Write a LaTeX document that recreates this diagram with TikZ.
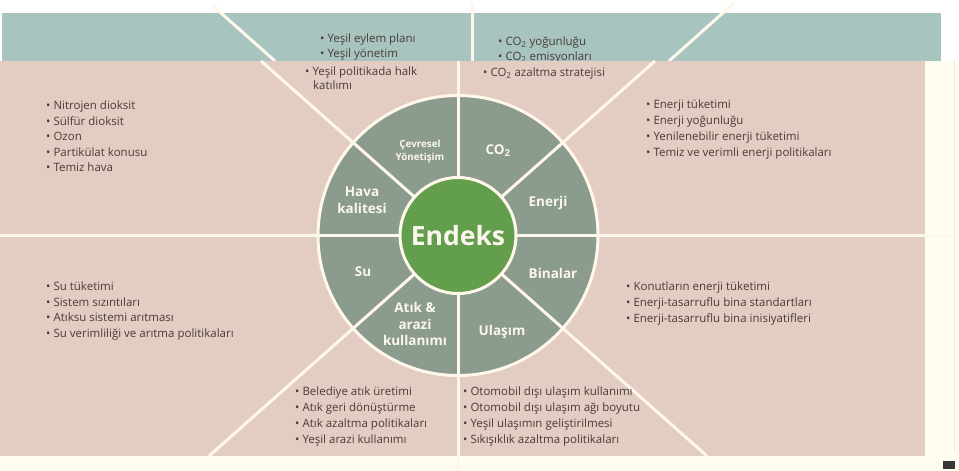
\documentclass[tikz,border=0pt]{standalone}
\usepackage{fontspec}
\setmainfont{Open Sans}

\definecolor{bandteal}{HTML}{A8C4BE}
\definecolor{panelpink}{HTML}{E3CDC2}
\definecolor{pagecream}{HTML}{FFFCF0}
\definecolor{linecream}{HTML}{FFF7EA}
\definecolor{wheelgrey}{HTML}{8B9B8D}
\definecolor{hubgreen}{HTML}{639E4C}
\definecolor{textdark}{HTML}{483B3B}
\definecolor{labelwhite}{HTML}{FBF7EE}

\begin{document}
\begin{tikzpicture}[
    x=1pt, y=-1pt,
    divider/.style={draw=linecream, line width=3pt},
    item/.style={anchor=base west, inner sep=0pt, text=textdark, font=\fontsize{11.5}{14}\selectfont},
    seglabel/.style={align=center, inner sep=0pt, text=labelwhite, font=\bfseries\fontsize{13.5}{16.5}\selectfont}
]

% Page, top band and main panel
\useasboundingbox (0,0) rectangle (959,471);
\fill[white] (0,0) rectangle (959,471);
\fill[pagecream] (0,61) rectangle (959,471);
\fill[bandteal] (2,13) rectangle (941,61);

% Top band (shifted copy of the dividers)
\draw[divider] (212,5) -- (275,61);
\draw[divider] (472,3) -- (472,61);
\draw[divider] (734,3) -- (669,61);
\node[item] (band-1) at (320,42.5) {• Yeşil eylem planı};
\node[item] (band-2) at (320,57.5) {• Yeşil yönetim};
\node[item] (band-3) at (498,45.5) {• CO\textsubscript{2} yoğunluğu};
\node[item] (band-4) at (498,60.5) {• CO\textsubscript{2} emisyonları};

\fill[panelpink] (0,61) rectangle (925,456);
\draw[panelpink!60, line width=1pt] (954,61) -- (954,450);

% Wheel
\coordinate (C) at (458,235.5);
\node[circle, fill=wheelgrey, draw=linecream, line width=3pt, minimum size=280pt, inner sep=0pt] (wheel) at (C) {};

% Dividers through the centre
\coordinate (ul) at (261,61);
\coordinate (lr) at (707,456);
\coordinate (ur) at (655,61);
\coordinate (ll) at (209,456);
\coordinate (top) at (458,61);
\coordinate (bottom) at (458,471);
\coordinate (left) at (0,235.5);
\coordinate (right) at (955,235.5);
\draw[divider] (ul) -- (lr);
\draw[divider] (ur) -- (ll);
\draw[divider] (top) -- (bottom);
\draw[divider] (left) -- (right);

\node[circle, fill=hubgreen, draw=linecream, line width=3pt, minimum size=116pt, inner sep=0pt,
      text=labelwhite, font=\bfseries\fontsize{26.5}{30}\selectfont] (endeks) at (C) {Endeks};

% Segment labels
\node[seglabel, font=\bfseries\fontsize{9.8}{13}\selectfont] (cevre) at (420,151) {Çevresel\\Yönetişim};
\node[seglabel] (co2) at (498,151) {CO\textsubscript{2}};
\node[seglabel] (enerji) at (548,203) {Enerji};
\node[seglabel] (binalar) at (553,273) {Binalar};
\node[seglabel] (ulasim) at (502,332) {Ulaşım};
\node[seglabel] (atik) at (415,324) {Atık \&\\arazi\\kullanımı};
\node[seglabel] (su) at (363,272) {Su};
\node[seglabel] (hava) at (362,200) {Hava\\kalitesi};

% Lists in the panel
\node[item] (cevre-1) at (305,75.5) {• Yeşil politikada halk};
\node[item] (cevre-2) at (313,89.5) {katılımı};
\node[item] (co2-1) at (483,76.5) {• CO\textsubscript{2} azaltma stratejisi};

\node[item] (hava-1) at (46,109.5) {• Nitrojen dioksit};
\node[item] (hava-2) at (46,125) {• Sülfür dioksit};
\node[item] (hava-3) at (46,140.5) {• Ozon};
\node[item] (hava-4) at (46,156) {• Partikülat konusu};
\node[item] (hava-5) at (46,171.5) {• Temiz hava};

\node[item] (enerji-1) at (646,108.5) {• Enerji tüketimi};
\node[item] (enerji-2) at (646,124.5) {• Enerji yoğunluğu};
\node[item] (enerji-3) at (646,140.5) {• Yenilenebilir enerji tüketimi};
\node[item] (enerji-4) at (646,156.5) {• Temiz ve verimli enerji politikaları};

\node[item] (su-1) at (46,290.5) {• Su tüketimi};
\node[item] (su-2) at (46,306) {• Sistem sızıntıları};
\node[item] (su-3) at (46,321.5) {• Atıksu sistemi arıtması};
\node[item] (su-4) at (46,337) {• Su verimliliği ve arıtma politikaları};

\node[item] (binalar-1) at (626,290.5) {• Konutların enerji tüketimi};
\node[item] (binalar-2) at (626,306.5) {• Enerji-tasarruflu bina standartları};
\node[item] (binalar-3) at (626,322.5) {• Enerji-tasarruflu bina inisiyatifleri};

\node[item] (atik-1) at (295,395.5) {• Belediye atık üretimi};
\node[item] (atik-2) at (295,411.5) {• Atık geri dönüştürme};
\node[item] (atik-3) at (295,427.5) {• Atık azaltma politikaları};
\node[item] (atik-4) at (295,443.5) {• Yeşil arazi kullanımı};

\node[item] (ulasim-1) at (463,395.5) {• Otomobil dışı ulaşım kullanımı};
\node[item] (ulasim-2) at (463,411.5) {• Otomobil dışı ulaşım ağı boyutu};
\node[item] (ulasim-3) at (463,427.5) {• Yeşil ulaşımın geliştirilmesi};
\node[item] (ulasim-4) at (463,443.5) {• Sıkışıklık azaltma politikaları};

% Corner mark
\fill[black!78] (943,461) rectangle (955,469);

\end{tikzpicture}
\end{document}
